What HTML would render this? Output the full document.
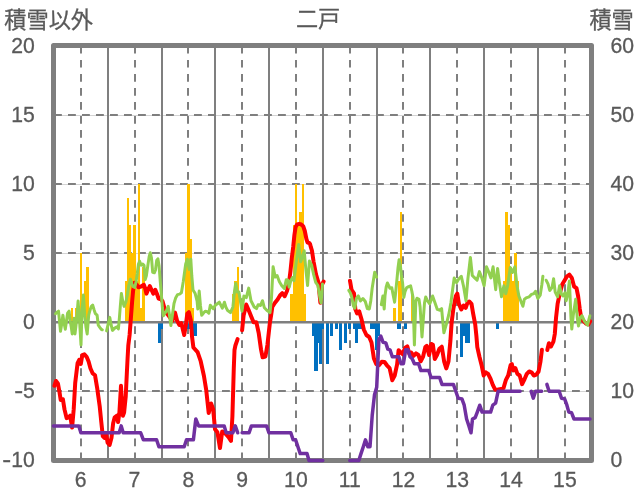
<!DOCTYPE html>
<html><head><meta charset="utf-8"><title>chart</title>
<style>html,body{margin:0;padding:0;background:#fff;overflow:hidden}svg{display:block}text{font-family:"Liberation Sans","Noto Sans CJK JP",sans-serif;font-size:22.2px;fill:#595959;stroke:#595959;stroke-width:0.3px}</style>
</head><body>
<svg width="636" height="501" viewBox="0 0 636 501">
<rect x="0" y="0" width="636" height="501" fill="#ffffff"/>
<g fill="none">
<line x1="53.5" x2="591.5" y1="115.5" y2="115.5" stroke="#d4d4d4" stroke-width="1"/>
<line x1="53.5" x2="591.5" y1="184.5" y2="184.5" stroke="#d4d4d4" stroke-width="1"/>
<line x1="53.5" x2="591.5" y1="253.5" y2="253.5" stroke="#d4d4d4" stroke-width="1"/>
<line x1="53.5" x2="591.5" y1="391.5" y2="391.5" stroke="#d4d4d4" stroke-width="1"/>
<line x1="54" x2="591.5" y1="115" y2="115" stroke="#7f7f7f" stroke-width="2" stroke-dasharray="7.85 6.15"/>
<line x1="54" x2="591.5" y1="184" y2="184" stroke="#7f7f7f" stroke-width="2" stroke-dasharray="7.85 6.15"/>
<line x1="54" x2="591.5" y1="253" y2="253" stroke="#7f7f7f" stroke-width="2" stroke-dasharray="7.85 6.15"/>
<line x1="54" x2="591.5" y1="391" y2="391" stroke="#7f7f7f" stroke-width="2" stroke-dasharray="7.85 6.15"/>
<line x1="81" x2="81" y1="45.9" y2="460.5" stroke="#7f7f7f" stroke-width="2" stroke-dasharray="7.7 6.32"/>
<line x1="108" x2="108" y1="45.5" y2="460.5" stroke="#7f7f7f" stroke-width="2"/>
<line x1="135" x2="135" y1="45.9" y2="460.5" stroke="#7f7f7f" stroke-width="2" stroke-dasharray="7.7 6.32"/>
<line x1="162" x2="162" y1="45.5" y2="460.5" stroke="#7f7f7f" stroke-width="2"/>
<line x1="188" x2="188" y1="45.9" y2="460.5" stroke="#7f7f7f" stroke-width="2" stroke-dasharray="7.7 6.32"/>
<line x1="215" x2="215" y1="45.5" y2="460.5" stroke="#7f7f7f" stroke-width="2"/>
<line x1="242" x2="242" y1="45.9" y2="460.5" stroke="#7f7f7f" stroke-width="2" stroke-dasharray="7.7 6.32"/>
<line x1="269" x2="269" y1="45.5" y2="460.5" stroke="#7f7f7f" stroke-width="2"/>
<line x1="296" x2="296" y1="45.9" y2="460.5" stroke="#7f7f7f" stroke-width="2" stroke-dasharray="7.7 6.32"/>
<line x1="323" x2="323" y1="45.5" y2="460.5" stroke="#7f7f7f" stroke-width="2"/>
<line x1="350" x2="350" y1="45.9" y2="460.5" stroke="#7f7f7f" stroke-width="2" stroke-dasharray="7.7 6.32"/>
<line x1="377" x2="377" y1="45.5" y2="460.5" stroke="#7f7f7f" stroke-width="2"/>
<line x1="403" x2="403" y1="45.9" y2="460.5" stroke="#7f7f7f" stroke-width="2" stroke-dasharray="7.7 6.32"/>
<line x1="430" x2="430" y1="45.5" y2="460.5" stroke="#7f7f7f" stroke-width="2"/>
<line x1="457" x2="457" y1="45.9" y2="460.5" stroke="#7f7f7f" stroke-width="2" stroke-dasharray="7.7 6.32"/>
<line x1="484" x2="484" y1="45.5" y2="460.5" stroke="#7f7f7f" stroke-width="2"/>
<line x1="511" x2="511" y1="45.9" y2="460.5" stroke="#7f7f7f" stroke-width="2" stroke-dasharray="7.7 6.32"/>
<line x1="538" x2="538" y1="45.5" y2="460.5" stroke="#7f7f7f" stroke-width="2"/>
<line x1="565" x2="565" y1="45.9" y2="460.5" stroke="#7f7f7f" stroke-width="2" stroke-dasharray="7.7 6.32"/>
</g>
<rect x="53.5" y="45.5" width="538" height="415" fill="none" stroke="#7f7f7f" stroke-width="5" stroke-linejoin="round"/>
<g fill="#ffc000" shape-rendering="crispEdges">
<rect x="71" y="308" width="2" height="14"/>
<rect x="75" y="308" width="2" height="14"/>
<rect x="80" y="253" width="2" height="69"/>
<rect x="84" y="281" width="2" height="41"/>
<rect x="86" y="267" width="3" height="55"/>
<rect x="125" y="281" width="2" height="41"/>
<rect x="127" y="198" width="2" height="124"/>
<rect x="129" y="225" width="2" height="97"/>
<rect x="131" y="253" width="2" height="69"/>
<rect x="133" y="225" width="3" height="97"/>
<rect x="136" y="281" width="2" height="41"/>
<rect x="138" y="184" width="2" height="138"/>
<rect x="140" y="308" width="2" height="14"/>
<rect x="142" y="267" width="3" height="55"/>
<rect x="185" y="253" width="2" height="69"/>
<rect x="187" y="184" width="3" height="138"/>
<rect x="190" y="239" width="2" height="83"/>
<rect x="192" y="308" width="2" height="14"/>
<rect x="232" y="294" width="2" height="28"/>
<rect x="234" y="281" width="3" height="41"/>
<rect x="237" y="267" width="2" height="55"/>
<rect x="290" y="294" width="3" height="28"/>
<rect x="293" y="225" width="2" height="97"/>
<rect x="295" y="184" width="2" height="138"/>
<rect x="297" y="225" width="2" height="97"/>
<rect x="299" y="212" width="3" height="110"/>
<rect x="302" y="184" width="2" height="138"/>
<rect x="304" y="294" width="2" height="28"/>
<rect x="393" y="308" width="3" height="14"/>
<rect x="398" y="281" width="2" height="41"/>
<rect x="400" y="212" width="2" height="110"/>
<rect x="411" y="294" width="3" height="28"/>
<rect x="503" y="281" width="2" height="41"/>
<rect x="505" y="212" width="3" height="110"/>
<rect x="508" y="225" width="2" height="97"/>
<rect x="510" y="267" width="2" height="55"/>
<rect x="512" y="281" width="2" height="41"/>
<rect x="514" y="253" width="3" height="69"/>
<rect x="517" y="281" width="2" height="41"/>
</g>
<g fill="#0070c0" shape-rendering="crispEdges">
<rect x="158" y="322" width="3" height="21"/>
<rect x="160" y="322" width="3" height="7"/>
<rect x="187" y="322" width="3" height="7"/>
<rect x="193" y="322" width="4" height="14"/>
<rect x="312" y="322" width="3" height="14"/>
<rect x="314" y="322" width="4" height="49"/>
<rect x="317" y="322" width="3" height="21"/>
<rect x="319" y="322" width="3" height="42"/>
<rect x="321" y="322" width="3" height="7"/>
<rect x="326" y="322" width="3" height="42"/>
<rect x="330" y="322" width="3" height="14"/>
<rect x="335" y="322" width="3" height="7"/>
<rect x="339" y="322" width="3" height="28"/>
<rect x="344" y="322" width="3" height="21"/>
<rect x="348" y="322" width="3" height="7"/>
<rect x="353" y="322" width="3" height="7"/>
<rect x="355" y="322" width="3" height="21"/>
<rect x="357" y="322" width="3" height="7"/>
<rect x="359" y="322" width="4" height="7"/>
<rect x="370" y="322" width="4" height="7"/>
<rect x="373" y="322" width="3" height="7"/>
<rect x="375" y="322" width="3" height="28"/>
<rect x="377" y="322" width="3" height="14"/>
<rect x="397" y="322" width="4" height="7"/>
<rect x="404" y="322" width="3" height="7"/>
<rect x="460" y="322" width="3" height="35"/>
<rect x="462" y="322" width="4" height="14"/>
<rect x="465" y="322" width="3" height="21"/>
<rect x="467" y="322" width="3" height="21"/>
<rect x="496" y="322" width="3" height="7"/>
</g>
<rect x="53.5" y="321" width="538" height="2.5" fill="#7f7f7f"/>
<g fill="none" stroke-linejoin="round" stroke-linecap="round">
<g stroke="#ff0000" stroke-width="4">
<polyline points="54.4,385.8 56,381 57.9,383.4 59.5,392.1 60.7,400 62.9,399.2 64.5,409.4 66.6,418.1 68.6,417.3 70.2,415.7 72.1,427.6 73.7,409.4 75.2,383 77.6,363.1 79.2,359.9 80.8,363.9 82.3,355.2 84.4,354.4 86.6,356.8 88.6,361.5 90.5,368.5 92.6,373.2 95,375.2 97.3,388.9 99.7,406.3 101.3,422.1 102.8,436.2 104.4,437.8 106,433.1 107.6,442.6 109.6,444.9 111.5,437.8 113.1,423.6 114.7,417.3 117,415.7 118.1,422.1 119.4,412.6 121,385.8 121.8,401.5 122.9,415.7 124.1,412.6 125.7,396.8 126.9,372 127.6,358 128.3,345.5 129.6,335 131,316.5 132.1,301.9 133.1,290.7 134.5,282.8 136.5,284.3 138.4,287.3 141,286.5 143.9,284.8 145.2,288.5 146.4,293.6 148.2,289.5 149.8,286 151.6,290 153.3,293.6 155.3,289.8 157,294 158.6,298.5 161,299.3 162.6,301.5 164,306.5 165.2,312.1 167.6,314.4 170,317.6 172.3,320.8 175,312.6 177.1,320.8 179.4,325 181.3,323.1 184.2,335 186.1,323.1 187.3,313.7 188.9,312.1 190.8,320 192.1,337.3 193.4,347.5 197.6,352.2 200.7,361.2 203.9,375.7 206.2,389.9 208.7,413 211.1,403.5 213.2,409.5 215,429.2 217.4,432.3 220,448.1 222.2,431.5 225.7,433.9 228.6,437.1 231,440.8 232.4,416.5 233.2,388.9 233.8,368 234.5,350 235.4,345.5 237.6,339.1"/>
<polyline points="242.1,330.3 243.6,315.5 246.2,304.5 248.7,310.2 251.2,316.4 253.6,322.3 256.4,322.3 258.7,333 261,349.4 262.6,357.3 265.4,356.5 267.4,345 269.8,323.5 271.2,314.7 272.3,307 274.8,303 277.6,299.5 280,295.5 282.3,293.1 284.7,296.2 287,291 289,283 290.5,270.8 291.8,258 293.2,246.9 294.4,235 295.6,227 297.2,224.4 299.2,223.8 301.2,224.4 303.2,226.2 304.8,231 306.4,239 307.6,242.6 309.2,243 310,243.8 310.8,246.9 312,250.9 313.6,261.8 316,274.4 318.4,282.3 320.4,302.8 321.5,285.5 323.6,281.5"/>
<polyline points="350,280.8 351.6,290 354,293.5 355.3,309 357,313.4 359.2,311.4 361.5,319.3 363.8,329.5 366.4,335 369.2,337 371.5,342.5 373.9,358.5 376.3,364.1 379,365.3 381.8,361.8 384.5,362 386.9,365.3 389.6,368.1 392.3,380.2 394.7,375.5 397.1,364.4 398.6,350.2 401,352.6 402.6,354.2 405,347.9 407.3,346.3 409.2,353.4 411.3,352.6 413.6,355.8 416,353.4 418.4,355 420.7,361.3 423.1,356.5 425.3,347.1 426.8,345.9 429.1,355 431.2,343.9 432.9,344.7 434.8,358.9 437,355 439.4,348.7 441.8,346.7 444.1,361.3 446.3,368.4 448.5,361.3 450.4,340.8 451.6,322.8 453.4,308.6 455.8,296 457.3,293.6 458.9,303.9 461.3,309.4 463.6,305.5 465.7,307.8 467.6,302.3 469.2,301.5 471.5,303.9 473.1,313.4 475.2,324.4 476.4,336 477.3,347.1 479.4,356.5 481.8,366 483.7,375.5 485.7,372.3 488.1,373.9 490.5,378.6 492.8,384.9 495.2,389.7 497.6,389.7 500.7,388.9 503.5,388.1 505.8,380.2 508.2,375.5 510.6,365.2 511.8,364 513.4,370.4 515.3,368 517.4,373.9 519.7,375.5 522.1,384.1 524.6,379 526.8,373.9 529.2,371.5 531.5,372.3 533.9,375.5 536.3,374.7 538.6,371.5 540.5,361.3 541.9,349.8"/>
<polyline points="547.3,350 548.9,343.2 550.9,346.6 553.4,341.6 554.8,334 556,318.1 557.6,303.9 559.9,292.9 562.3,284.2 564.7,280.2 567,276.3 569.4,274.7 571.8,277.9 574.1,286.5 576.5,288.1 578.1,296 579.7,308.6 581.2,318.1 583.6,321.2 586,323.6 588.3,324.4 590.2,321.2"/>
</g>
<g stroke="#92d050" stroke-width="3">
<polyline points="55.5,313.7 57,312.2 58.5,311.2 59.5,321.2 60.5,331.3 61.5,325.2 62.9,315.2 64.1,323.2 65.3,329.3 66.6,320.2 67.6,313.2 69.1,311.2 70.1,320.2 71.3,327.3 72.2,333.9 74.1,318.2 75,333.9 76.6,320.2 78.1,301.1 79.7,323.2 81,345 82,310.2 83.4,295.1 84.7,315.2 86,327.3 87.2,334 88.7,315.2 90,310.2 91.2,306.6 92.7,305.1 94.2,310.2 95.4,313.7 97.1,315.2 98.3,325.2 99.8,327.3 101.3,329.3 102.3,329.8"/>
<polyline points="106.6,330.9 108,324.9 109.8,317.4 111,324.4 112.5,330.4 115,327.9 117,326.9 118.4,328.9 119.4,317.9 120.4,305 121.4,293.5 122.7,301 124.1,306.4 125.9,302 127.4,295 128.8,285.5 130.4,279.2 132,284.3 133.2,286.7 134.8,287.5 136,282 137.2,274 138.4,264.4 139.6,261.2 141.2,265.2 142.8,264 144,265.2 145.2,279.6 146.4,275.6 148,264.4 149.2,256.4 150.3,252.8 151.5,258 152.7,272.4 154.3,272.8 155.5,270 156.7,260.4 157.9,258.8 159.1,266 160.3,282 161.4,295 162.4,308 163.4,315.8 164.6,313.5 166.2,311.3 168.2,306.4 169.5,315.2 170.9,325.5 172.4,315 174,303.5 175.6,298.1 177.6,294.6 179.6,294.1 181.4,292.8 183.3,281.5 185.7,263.9 187.3,259.2 189.2,269.4 190.8,259.2 191.8,276 193,289.9 195.2,293.6 197.1,301.2 197.8,309 199.2,291.1 200.4,305.2 201.7,315.2 203.7,312.7 205.2,311.2 207.3,311.7 208.8,313.2 210.3,305.2 211.8,307.2 213.3,308.7 215.3,305.2 217.3,303.7 219.3,302.2 220.8,305.2 222.3,308.2 224.4,302.2 225.9,307.2 227.4,310.2 230.5,312.6 232.9,307 234.5,291.3 235.7,283.4 237.3,292.1 238.9,292.1 242,311 243.9,296 246.3,297.6 248.7,288.1 251,300.7 254.2,307 256.5,308.6 258.1,304.7 260.5,305.5 262.5,300.7 264.4,307.8 266.8,310.2 270,312.6 271.5,297.6 273.1,266.8 275.2,277.1 277.1,275.5 279.4,281.8 281.8,285.8 284.3,288.4 286.3,279.7 287.8,280 289.2,287.1 290.8,280.7 292.4,277.6 293.9,280.7 296.3,261.8 298.7,244.5 300.6,261.8 302.1,257.9 304.2,250.8 305.8,268.9 307.6,285.5 309.4,261 311.6,265 313.6,274.4 315.7,282.3 317.9,285.5 320,298.1 321.1,302.8 322.5,283.9"/>
<polyline points="348.8,290.4 350.4,293 351.9,297.8 353.4,306 354.8,308.2 356.4,298.5 358.3,295.9 360.4,301 362.9,298.5 365.3,301.5 367.3,308.5 369.3,309 370.8,300.7 372.2,288 374.7,272.3 376.6,277.1"/>
<polyline points="381.3,304.7 382.9,296 384.2,309 385,295.8 386.2,287 387.4,283 388.6,285.4 389.8,288.2 391.8,287.8 393,294.2 394.6,302.2 395.8,291 397,279 398,268 399.1,259.7 400.4,266 401.4,275 402.6,283 403.8,297.4 405,291.8 406.6,287.8 408.6,286.6 410.6,285.8 411.8,291 413,297.4 414.4,345 415.8,301.4 417,298.2 419,299.4 420.1,307 422,337 424.5,303 425.7,297 427.4,300.7 429.7,303.9 432.6,296 434.8,302.3 437.3,309.4 439.5,310.2 441.6,308.6 443.9,332.8 446.3,324.4 448.7,314.9 451,302.3 452.6,289.7 454.2,277.9 456.5,282.6 458.9,278.7 461.3,276.3 463.6,286.5 466,300.7 467.9,278.7 470.4,257.4 472.3,275.5 474.7,277.9 477.1,280.2 479.4,271.6 481.8,277.9 484.1,285.8 486.5,266.8 488.9,272.4 490.9,277.9 493.1,266.8 495.7,289.7 497.6,268.4 499.4,282.6 501.5,296.8 503.9,285.8 505.8,293.6 507.8,285 510.2,267.6 512.5,272.4 514.9,266.8 517.1,286.5 518.9,296 521.3,302.3 522.9,306.3 524.4,299.2 526.8,297.6 529.2,296.8 531.5,294.4 533.9,293.6 535.5,291.3 537.9,298.4 540.2,295.2 541.8,285 542.9,276.3"/>
<polyline points="546.1,280.2 548.1,284.2 549.7,290.5 552.1,287.3 553.6,278.7 555.2,292.1 557.6,296.8 559.6,285.8 561.5,294.4 563.1,296 565,292.9 566.2,300.7 567.8,293.6 569.4,281 571,318.1 571.8,329.1 573.3,314.9 575.7,299.2 577.3,318.1 578.5,326 580.4,317.3 582,315.7 584.4,321.2 587.5,325.2 589.9,315.7"/>
</g>
<g stroke="#7030a0" stroke-width="3.5">
<polyline points="53.4,425.9 78.8,425.9 80.9,432.8 119.2,432.8 121.2,425.9 123.2,432.8 140.7,432.8 143.4,439.8 156.6,439.8 158.9,446.7 184.2,446.7 186.5,439.8 193.4,439.8 195.8,419 198.6,425.9 224.2,425.9 226.2,432.8 232.9,432.8 235.3,425.9 237.7,432.8"/>
<polyline points="242.1,432.8 249.1,432.8 251.4,425.9 266.6,425.9 268.9,432.8 290.8,432.8 293.1,439.8 295.6,439.8 297.9,446.7 300.2,453.6 307,453.6 309,460.5 322.8,460.5"/>
<polyline points="349.8,460.5 358.8,460.5 361,453.6 363.3,446.7 365.5,439.8 367.8,446.7 370,446.7 372.2,415.5 374.5,394.8 376.7,387.2 378.9,339.5 380.8,336 383,342.2 385.8,342.9 387.8,349.1 390,349.8 392.3,356.8 398.8,356.8 401,363.7 403.4,363.7 405.7,349.8 408,349.8 410,356.8 412.2,358.8 414.4,363.7 418.6,363.7 420.9,370.6 428.8,370.6 431,377.5 439.6,377.5 442,384.4 453.4,384.4 455.8,391.3 458.2,398.2 461.9,398.9 464.2,405.2 466.6,419 468.9,425.9 471,432.8 472.5,419 475.2,417.6 477.3,412.1 479.8,405.2 482.1,412.1 490.6,412.1 492.8,405.2 495.6,403.1 498.1,391.3 520.1,391.3"/>
<polyline points="531.1,391.3 533.3,398.2 535.6,391.3 541.7,391.3"/>
<polyline points="546.9,384.4 549.1,391.3 559.2,391.3 561.5,398.2 564.6,398.9 566.9,405.2 568.8,412.1 571.6,412.8 574,419 590,419"/>
</g>
</g>
<defs><filter id="ga" x="-5%" y="-5%" width="110%" height="110%"><feOffset dx="0" dy="0"/></filter></defs>
<g filter="url(#ga)">
<text transform="translate(34.9 53) scale(0.955 1)" text-anchor="end">20</text>
<text transform="translate(34.9 122) scale(0.955 1)" text-anchor="end">15</text>
<text transform="translate(34.9 191) scale(0.955 1)" text-anchor="end">10</text>
<text transform="translate(34.9 260) scale(0.955 1)" text-anchor="end">5</text>
<text transform="translate(34.9 329) scale(0.955 1)" text-anchor="end">0</text>
<text transform="translate(34.9 398) scale(0.955 1)" text-anchor="end">5</text>
<text transform="translate(23.1 398) scale(1.21 1)" text-anchor="end">-</text>
<text transform="translate(34.9 467) scale(0.955 1)" text-anchor="end">10</text>
<text transform="translate(11.3 467) scale(1.21 1)" text-anchor="end">-</text>
<text transform="translate(610.4 53) scale(0.955 1)" text-anchor="start">60</text>
<text transform="translate(610.4 122) scale(0.955 1)" text-anchor="start">50</text>
<text transform="translate(610.4 191) scale(0.955 1)" text-anchor="start">40</text>
<text transform="translate(610.4 260) scale(0.955 1)" text-anchor="start">30</text>
<text transform="translate(610.4 329) scale(0.955 1)" text-anchor="start">20</text>
<text transform="translate(610.4 398) scale(0.955 1)" text-anchor="start">10</text>
<text transform="translate(610.4 467) scale(0.955 1)" text-anchor="start">0</text>
<text transform="translate(80.7 487) scale(0.955 1)" text-anchor="middle">6</text>
<text transform="translate(134.5 487) scale(0.955 1)" text-anchor="middle">7</text>
<text transform="translate(188.3 487) scale(0.955 1)" text-anchor="middle">8</text>
<text transform="translate(242.1 487) scale(0.955 1)" text-anchor="middle">9</text>
<text transform="translate(295.9 487) scale(0.955 1)" text-anchor="middle">10</text>
<text transform="translate(349.7 487) scale(0.955 1)" text-anchor="middle">11</text>
<text transform="translate(403.5 487) scale(0.955 1)" text-anchor="middle">12</text>
<text transform="translate(457.3 487) scale(0.955 1)" text-anchor="middle">13</text>
<text transform="translate(511.1 487) scale(0.955 1)" text-anchor="middle">14</text>
<text transform="translate(564.9 487) scale(0.955 1)" text-anchor="middle">15</text>
</g>
<text x="4.3" y="28" font-size="20.6px" text-anchor="start">積雪以外</text>
<text x="318.1" y="26.6" font-size="21px" text-anchor="middle">二戸</text>
<text x="589.4" y="28.1" font-size="21px" text-anchor="start">積雪</text>
</svg>
</body></html>
